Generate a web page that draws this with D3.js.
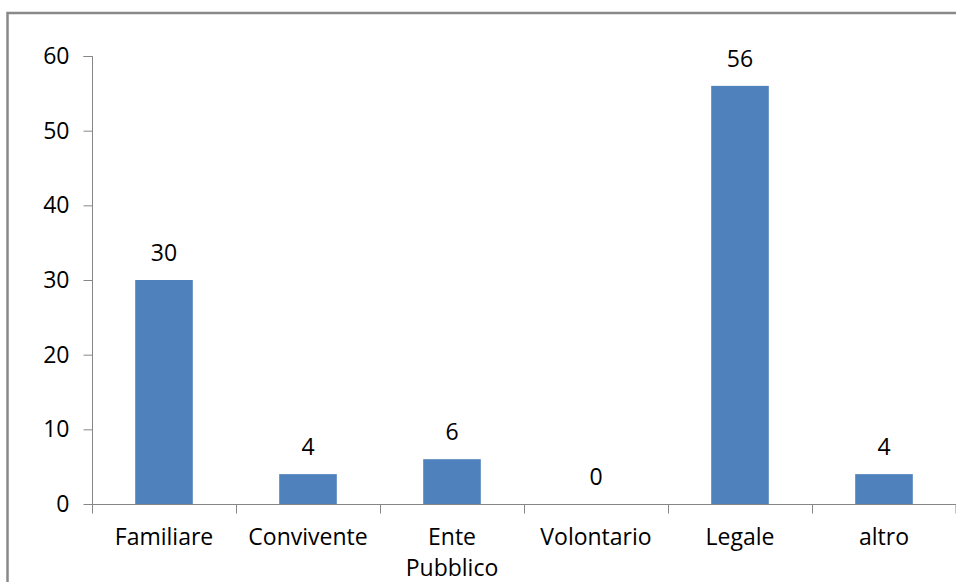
<!DOCTYPE html>
<html>
<head>
<meta charset="utf-8">
<script src="https://cdnjs.cloudflare.com/ajax/libs/d3/7.8.5/d3.min.js"></script>
<style>
  body { margin: 0; background: #fff; }
  text { font-family: "Open Sans", "Noto Sans", sans-serif; fill: #000; }
</style>
</head>
<body>
<svg width="956" height="582"></svg>
<script>
var categories = ["Familiare", "Convivente", "Ente Pubblico", "Volontario", "Legale", "altro"],
    values = [30, 4, 6, 0, 56, 4],
    yTicks = [0, 10, 20, 30, 40, 50, 60];

var svg = d3.select("svg"),
    margin = {top: 56, right: 0, bottom: 78, left: 92},
    width = +svg.attr("width") - margin.left - margin.right,
    height = +svg.attr("height") - margin.top - margin.bottom,
    fontSize = "23px";

// outer chart frame (cut off on right and bottom)
svg.append("rect")
    .attr("x", 7.5)
    .attr("y", 13)
    .attr("width", 980)
    .attr("height", 600)
    .attr("fill", "none")
    .attr("stroke", "#898989")
    .attr("stroke-width", 2.5);

var g = svg.append("g").attr("transform", "translate(" + margin.left + "," + margin.top + ")");

var x = d3.scaleBand()
    .domain(categories)
    .range([0, width])
    .paddingInner(0.6)
    .paddingOuter(0.3);

var y = d3.scaleLinear()
    .domain([0, 60])
    .range([height, 0]);

var grey = "#868686";

// y axis
var yAxis = g.append("g")
    .attr("transform", "translate(0.5,0)")
    .call(d3.axisLeft(y).tickValues(yTicks).tickSize(9).tickPadding(14));
yAxis.select(".domain").attr("stroke", grey).attr("d", "M-9," + (y(60) + 0.5) + "H0V" + (height + 0.5));
yAxis.selectAll(".tick line").attr("stroke", grey);
yAxis.selectAll(".tick text").style("font-size", fontSize).attr("font-family", null);

// bars
g.selectAll(".bar")
    .data(values)
  .enter().append("rect")
    .attr("class", "bar")
    .attr("x", function(d, i) { return x(categories[i]); })
    .attr("y", function(d) { return y(d); })
    .attr("width", x.bandwidth())
    .attr("height", function(d) { return height - y(d); })
    .attr("fill", "#4F81BD");

// value labels
g.selectAll(".val")
    .data(values)
  .enter().append("text")
    .attr("class", "val")
    .attr("x", function(d, i) { return x(categories[i]) + x.bandwidth() / 2; })
    .attr("y", function(d) { return y(d) - 19; })
    .attr("text-anchor", "middle")
    .style("font-size", fontSize)
    .text(function(d) { return d; });

// x axis with boundary ticks
var step = width / categories.length;
var xg = g.append("g").attr("transform", "translate(0," + (height + 0.5) + ")");
xg.append("line")
    .attr("x1", 0).attr("x2", width)
    .attr("stroke", grey);
xg.selectAll(".xt")
    .data(d3.range(categories.length + 1))
  .enter().append("line")
    .attr("x1", function(i) { return Math.min(i * step, width - 0.5) + 0.5; })
    .attr("x2", function(i) { return Math.min(i * step, width - 0.5) + 0.5; })
    .attr("y1", 0).attr("y2", 9)
    .attr("stroke", grey);

xg.selectAll(".xl")
    .data(categories)
  .enter().append("text")
    .attr("x", function(d) { return x(d) + x.bandwidth() / 2; })
    .attr("y", 40)
    .attr("text-anchor", "middle")
    .style("font-size", fontSize)
    .each(function(d) {
      var words = d.split(" ");
      var t = d3.select(this);
      if (words.length > 1) {
        words.forEach(function(w, k) {
          t.append("tspan")
            .attr("x", t.attr("x"))
            .attr("dy", k === 0 ? 0 : 31)
            .text(w);
        });
      } else {
        t.text(d);
      }
    });
</script>
</body>
</html>
